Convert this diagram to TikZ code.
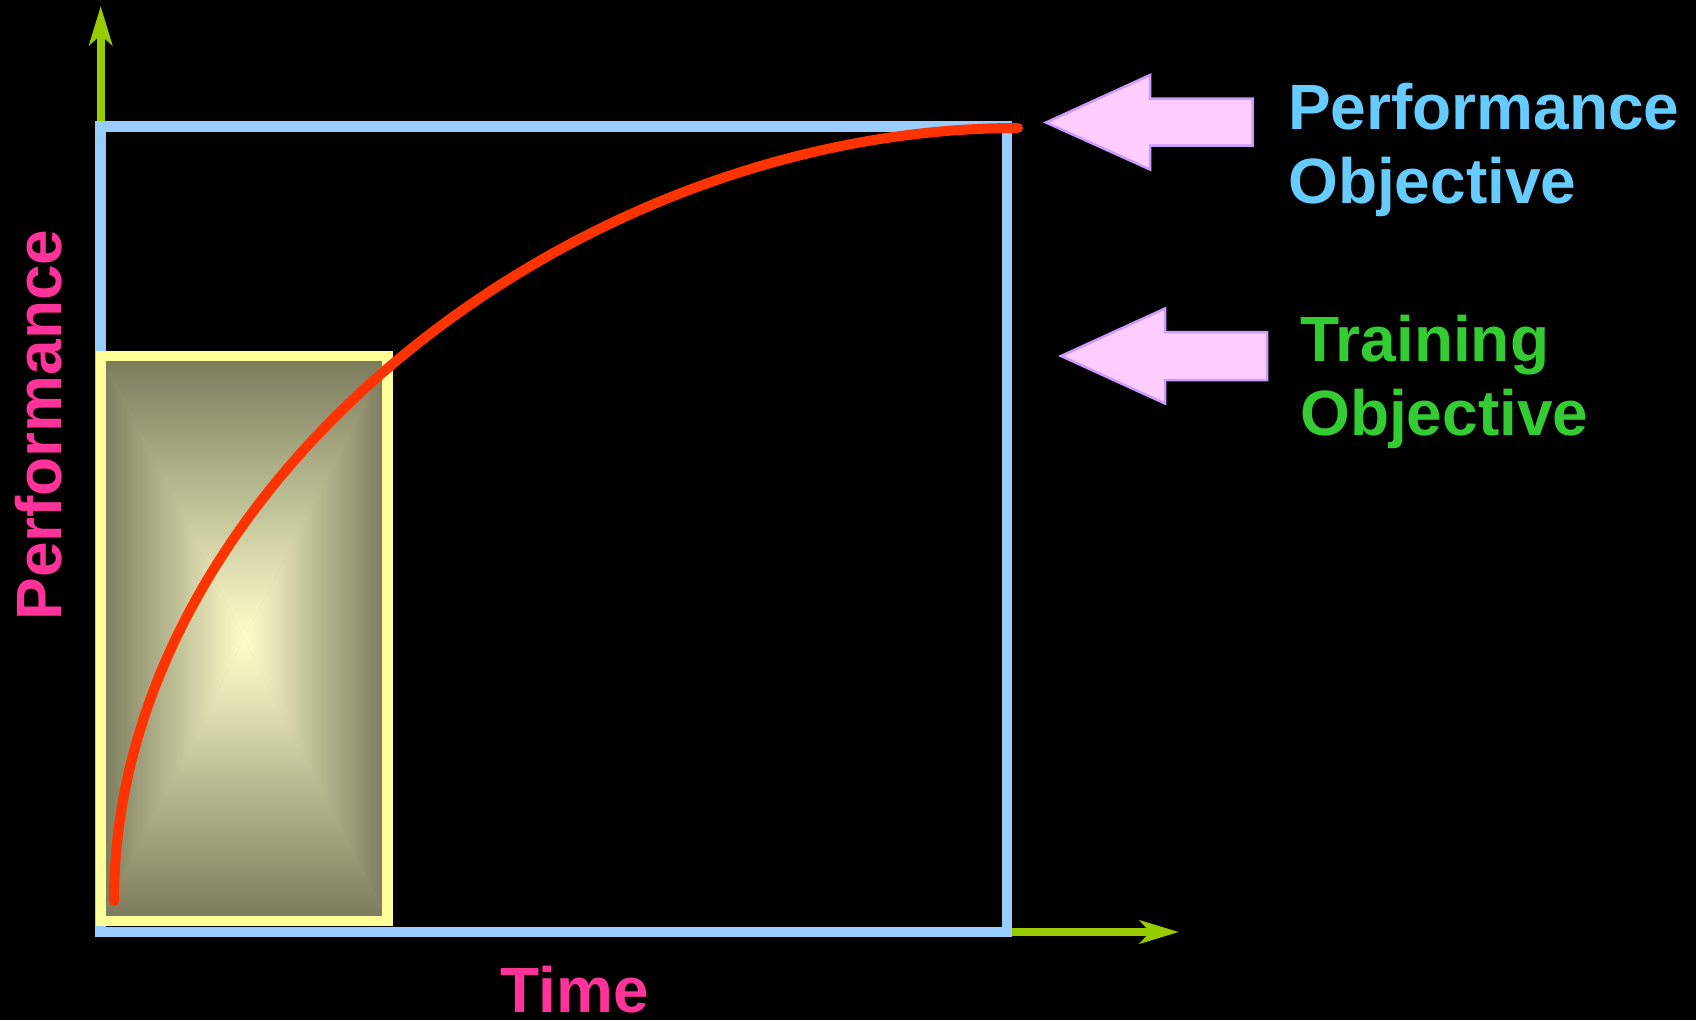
\documentclass[tikz,border=0pt]{standalone}
\usepackage{fontspec}
\setmainfont{Liberation Sans}
\usetikzlibrary{arrows.meta}

\definecolor{axisgreen}{HTML}{99CC00}
\definecolor{goalblue}{HTML}{99CCFF}
\definecolor{trainyellow}{HTML}{FFFF99}
\definecolor{curvered}{HTML}{FF3300}
\definecolor{axispink}{HTML}{FF3399}
\definecolor{perfblue}{HTML}{66CCFF}
\definecolor{traingreen}{HTML}{33CC33}
\definecolor{arrowfill}{HTML}{FFCCFF}
\definecolor{arrowedge}{HTML}{CC99FF}
\definecolor{shadedark}{HTML}{7A7A5C}
\definecolor{shadelight}{HTML}{FFFFCC}

\begin{document}
\begin{tikzpicture}[x=1pt, y=-1pt,
    axisline/.style = {axisgreen, line width=8pt, -{Stealth[length=39pt, width=23pt, inset=10pt]}},
    goalbox/.style = {goalblue, line width=10.5pt},
    trainbox/.style = {trainyellow, line width=10.5pt},
    objarrow/.style = {fill=arrowfill, draw=arrowedge, line width=2.5pt},
    lbl/.style = {inner sep=0pt, font=\fontsize{64pt}{76pt}\selectfont\bfseries}
  ]
  \fill[black] (0,0) rectangle (1696,1020);
  \useasboundingbox (0,0) rectangle (1696,1020);

  \coordinate (O) at (100.7,932);
  \coordinate (top) at (100.7,126.5);
  \coordinate (corner) at (1007,932);
  \coordinate (yend) at (100.7,6);
  \coordinate (xend) at (1179,932);

  % axes
  \draw[axisline] (top) -- (yend);
  \draw[axisline] (corner) -- (xend);

  % performance frame
  \draw[goalbox] (O) rectangle (1007,126.5);

  % training window with its rectangular glow
  \coordinate (tl) at (100.8,355.8);
  \coordinate (tr) at (387.5,355.8);
  \coordinate (br) at (387.5,921);
  \coordinate (bl) at (100.8,921);
  \coordinate (mid) at (244.15,638.4);
  \fill[shadedark!55!shadelight] (tl) rectangle (br);
  \shade[top color=shadedark, middle color=shadedark!62!shadelight, bottom color=shadelight] (tl) -- (tr) -- (mid) -- cycle;
  \shade[top color=shadelight, middle color=shadedark!62!shadelight, bottom color=shadedark] (bl) -- (br) -- (mid) -- cycle;
  \shade[left color=shadedark, middle color=shadedark!62!shadelight, right color=shadelight] (tl) -- (bl) -- (mid) -- cycle;
  \shade[left color=shadelight, middle color=shadedark!62!shadelight, right color=shadedark] (tr) -- (br) -- (mid) -- cycle;
  \draw[trainbox] (tl) rectangle (br);

  % learning curve
  \coordinate (start) at (114,901);
  \coordinate (goal) at (1018,128);
  \draw[curvered, line width=10pt, line cap=round] (start) .. controls (114,491) and (566,128) .. (goal);

  % objective arrows
  \draw[objarrow] (1046,122.5) -- ++(104,-47.5) -- ++(0,23.5) -- ++(102.7,0) -- ++(0,47) -- ++(-102.7,0) -- ++(0,24) -- cycle;
  \draw[objarrow] (1061,356) -- ++(104,-47.5) -- ++(0,23.5) -- ++(102,0) -- ++(0,48) -- ++(-102,0) -- ++(0,23.5) -- cycle;

  % labels
  \node[lbl, perfblue, anchor=base west] (perf1) at (1288,129) {Performance};
  \node[lbl, perfblue, anchor=base west] (perf2) at (1288,203) {Objective};
  \node[lbl, traingreen, anchor=base west] (train1) at (1300,361) {Training};
  \node[lbl, traingreen, anchor=base west] (train2) at (1300,435) {Objective};
  \node[lbl, axispink, anchor=base, rotate=90] (ylabel) at (61,425) {Performance};
  \node[lbl, axispink, anchor=base] (xlabel) at (575,1012) {Time};
\end{tikzpicture}
\end{document}
